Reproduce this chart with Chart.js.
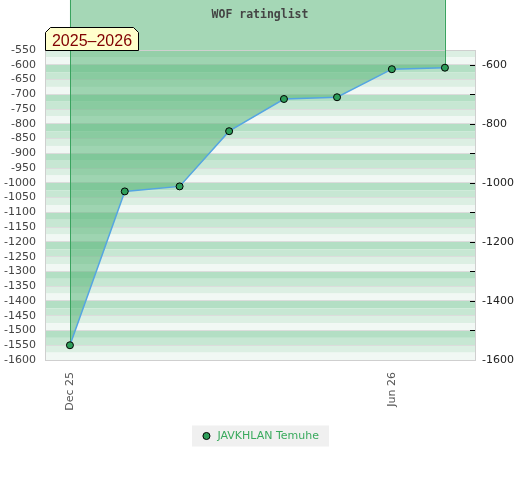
<!DOCTYPE html>
<html>
<head>
<meta charset="utf-8">
<title>WOF ratinglist</title>
<script src="https://cdn.jsdelivr.net/npm/chart.js@4.4.1/dist/chart.umd.min.js"></script>
<style>
  html, body { margin: 0; padding: 0; background: #fff; }
  #wrap { width: 520px; height: 480px; }
</style>
</head>
<body>
<div id="wrap"><canvas id="ratingChart" width="520" height="480"></canvas></div>
<script>
// data
const monthDates = ['2025-12-01', '2026-01-01', '2026-02-01', '2026-03-01',
                    '2026-04-01', '2026-05-01', '2026-06-01', '2026-07-01'];
const ratingValues = [-1550, -1029, -1012, -825, -716, -710, -615, -610];
const xTickDates = ['2025-12-01', '2026-06-01'];
const xTickLabels = ['Dec 25', 'Jun 26'];
const playerName = 'JAVKHLAN Temuhe';
const chartTitle = 'WOF ratinglist';
const seasonLabel = '2025\u20132026';
const yMin = -1600;
const yMax = -550;

const style = {
    stripes: ['#dcefe3', '#f1f8f4', '#b3dfc4', '#c7e7d3'],
    stripeStep: 25,
    seasonFill: 'rgba(76, 175, 110, 0.5)',
    seasonEdge: '#3aa35f',
    line: '#55a5e2',
    point: '#2e9e5a',
    border: '#cfcfcf',
    grid: '#dcdcdc'
};

const dayOf = (s) => (Date.parse(s) - Date.parse(monthDates[0])) / 86400000;
const points = monthDates.map((d, i) => ({ x: dayOf(d), y: ratingValues[i] }));

Chart.defaults.font.family = '"DejaVu Sans", sans-serif';

const decorPlugin = {
    id: 'wofDecor',
    beforeDraw(chart) {
        const { ctx, chartArea: a, scales: { x, y } } = chart;
        ctx.save();
        ctx.fillStyle = '#fff';
        ctx.fillRect(0, 0, chart.width, chart.height);

        // striped plot background
        let k = 0;
        for (let v = yMax; v > yMin; v -= style.stripeStep, k++) {
            const top = y.getPixelForValue(v);
            const bot = y.getPixelForValue(Math.max(v - style.stripeStep, yMin));
            ctx.fillStyle = style.stripes[k % style.stripes.length];
            ctx.fillRect(a.left, top, a.right - a.left, bot - top);
        }

        // season band above the plot
        const x0 = x.getPixelForValue(points[0].x);
        const x1 = x.getPixelForValue(points[points.length - 1].x);
        ctx.fillStyle = style.seasonFill;
        ctx.fillRect(x0, 0, x1 - x0, a.top);

        // legend background
        const hb = chart.legend && chart.legend.legendHitBoxes && chart.legend.legendHitBoxes[0];
        if (hb) {
            ctx.fillStyle = '#f0f0f0';
            ctx.fillRect(hb.left - 9, hb.top - 5, hb.width + 19, hb.height + 10);
        }
        ctx.restore();
    },
    beforeDatasetsDraw(chart) {
        const { ctx, chartArea: a, scales: { x, y, y2 } } = chart;
        ctx.save();
        ctx.lineWidth = 1;

        ctx.strokeStyle = style.border;
        ctx.strokeRect(a.left + 0.5, a.top + 0.5, a.right - a.left, a.bottom - a.top);

        // inward tick marks on the right axis
        ctx.strokeStyle = '#000';
        ctx.beginPath();
        y2.ticks.forEach(t => {
            if (t.value % 100 !== 0 || t.value <= yMin || t.value >= yMax) return;
            const py = Math.round(y2.getPixelForValue(t.value)) + 0.5;
            ctx.moveTo(a.right - 5, py);
            ctx.lineTo(a.right, py);
        });
        ctx.stroke();

        // season edges
        const first = points[0];
        const last = points[points.length - 1];
        ctx.strokeStyle = style.seasonEdge;
        ctx.beginPath();
        [first, last].forEach(p => {
            const px = Math.round(x.getPixelForValue(p.x)) + 0.5;
            ctx.moveTo(px, 0);
            ctx.lineTo(px, y.getPixelForValue(p.y));
        });
        ctx.stroke();
        ctx.restore();
    },
    afterDraw(chart) {
        const { ctx, chartArea: a } = chart;
        ctx.save();
        ctx.font = '16px "Liberation Sans", Arial, sans-serif';
        const tw = ctx.measureText(seasonLabel).width;
        const bx = a.left + 0.5;
        const bw = Math.round(tw + 13);
        const bh = 23;
        const by = a.top + 0.5 - bh;
        const c = 5;
        ctx.beginPath();
        ctx.moveTo(bx, a.top + 0.5);
        ctx.lineTo(bx, by + c);
        ctx.lineTo(bx + c, by);
        ctx.lineTo(bx + bw - c, by);
        ctx.lineTo(bx + bw, by + c);
        ctx.lineTo(bx + bw, a.top + 0.5);
        ctx.closePath();
        ctx.fillStyle = '#ffffcc';
        ctx.fill();
        ctx.strokeStyle = '#000';
        ctx.lineWidth = 1;
        ctx.stroke();
        ctx.fillStyle = '#800000';
        ctx.textAlign = 'center';
        ctx.textBaseline = 'alphabetic';
        ctx.fillText(seasonLabel, bx + bw / 2, a.top - 4);
        ctx.restore();
    }
};

const ctx = document.getElementById('ratingChart').getContext('2d');
new Chart(ctx, {
    type: 'line',
    data: {
        datasets: [{
            label: playerName,
            data: points,
            borderColor: style.line,
            borderWidth: 1.5,
            tension: 0,
            pointRadius: 3.5,
            pointBackgroundColor: style.point,
            pointBorderColor: '#000',
            pointBorderWidth: 1,
            fill: 'end',
            backgroundColor: style.seasonFill
        }]
    },
    options: {
        responsive: false,
        animation: false,
        events: [],
        layout: { padding: { top: 0, left: 0, right: 0, bottom: 28.5 } },
        plugins: {
            filler: { drawTime: 'beforeDatasetsDraw' },
            tooltip: { enabled: false },
            title: {
                display: true,
                text: chartTitle,
                color: '#444',
                font: { family: '"DejaVu Sans Mono", monospace', size: 11.5, weight: 'bold' },
                padding: { top: 8, bottom: 28.2 }
            },
            legend: {
                position: 'bottom',
                labels: {
                    usePointStyle: true,
                    pointStyle: 'circle',
                    boxWidth: 11,
                    boxHeight: 5,
                    color: '#3aaa5e',
                    font: { size: 11 },
                    padding: 10
                }
            }
        },
        scales: {
            x: {
                type: 'linear',
                min: -14.1,
                max: 229,
                grid: { display: false, drawTicks: false },
                border: { display: false },
                afterBuildTicks: (s) => {
                    s.ticks = xTickDates.map(d => ({ value: dayOf(d) }));
                },
                afterFit: (s) => { s.height = 60.5; },
                ticks: {
                    autoSkip: false,
                    minRotation: 90,
                    maxRotation: 90,
                    padding: 12,
                    color: '#555',
                    font: { size: 11 },
                    callback: (v, i) => xTickLabels[i]
                }
            },
            y: {
                position: 'left',
                min: yMin,
                max: yMax,
                grid: { color: style.grid, lineWidth: 1, drawTicks: false },
                border: { display: false },
                afterFit: (s) => { s.width = 45; },
                ticks: {
                    stepSize: 50,
                    autoSkip: false,
                    padding: 9,
                    color: '#444',
                    font: { size: 11 },
                    callback: (v) => String(v)
                }
            },
            y2: {
                position: 'right',
                min: yMin,
                max: yMax,
                grid: { display: false, drawTicks: false },
                border: { display: false },
                afterFit: (s) => { s.width = 45; },
                ticks: {
                    stepSize: 100,
                    autoSkip: false,
                    padding: 7,
                    color: '#222',
                    font: { size: 11 },
                    callback: (v) => (v % 200 === 0 ? String(v) : '')
                }
            }
        }
    },
    plugins: [decorPlugin]
});
</script>
</body>
</html>
